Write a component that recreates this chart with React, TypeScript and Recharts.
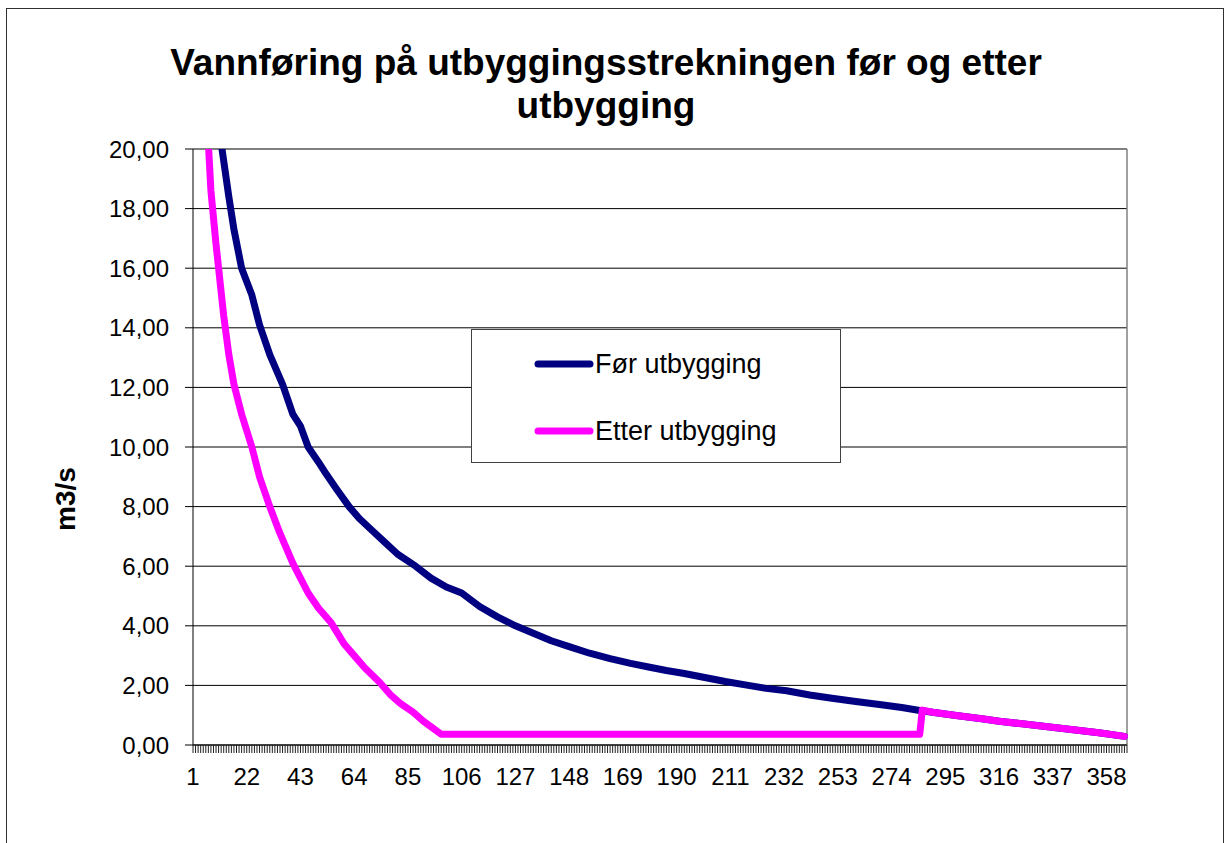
import {
  LineChart,
  Line,
  XAxis,
  YAxis,
  CartesianGrid,
  ReferenceLine,
  Legend,
} from "recharts";

const titleLines = ["Vannføring på utbyggingsstrekningen før og etter", "utbygging"];
const yTitle = "m3/s";
const seriesNames = ["Før utbygging", "Etter utbygging"];
const seriesColors = ["#000080", "#FF00FF"];

// day labels shown on the category axis
const xLabels = [1, 22, 43, 64, 85, 106, 127, 148, 169, 190, 211, 232, 253, 274, 295, 316, 337, 358];
const yTicks = [0, 2, 4, 6, 8, 10, 12, 14, 16, 18, 20];

// m3/s per day of the duration curve
const forDays = [
  1, 12, 15, 17, 20, 24, 27, 31, 36, 40, 43, 46, 50, 53, 57, 62, 66, 71, 76, 81,
  88, 94, 100, 106, 113, 120, 127, 134, 141, 148, 156, 164, 172, 180, 186, 193, 200, 209, 218, 225,
  233, 242, 250, 260, 270, 278, 285, 290, 300, 310, 316, 325, 335, 345, 355, 365,
];
const forValues = [
  55, 20.2, 18.4, 17.3, 16.0, 15.1, 14.1, 13.1, 12.1, 11.1, 10.7, 10.0, 9.5, 9.1, 8.6, 8.0, 7.6, 7.2, 6.8, 6.4,
  6.0, 5.6, 5.3, 5.1, 4.65, 4.3, 4.0, 3.75, 3.5, 3.3, 3.08, 2.9, 2.74, 2.6, 2.5, 2.4, 2.28, 2.13, 2.0, 1.9,
  1.82, 1.68, 1.58, 1.46, 1.35, 1.26, 1.16, 1.1, 0.98, 0.87, 0.8, 0.71, 0.61, 0.51, 0.41, 0.29,
];

const etterDays = [
  1, 7, 8, 10, 11, 13, 15, 17, 20, 24, 27, 31, 35, 40, 43, 46, 50, 55, 60, 64,
  68, 74, 78, 82, 87, 91, 95, 98, 285, 286, 290, 300, 310, 316, 325, 335, 345, 355, 365,
];
const etterValues = [
  45, 20.2, 18.6, 16.8, 16.0, 14.4, 13.1, 12.1, 11.1, 10.0, 9.0, 8.0, 7.1, 6.1, 5.6, 5.1, 4.6, 4.1, 3.4, 3.0,
  2.6, 2.1, 1.7, 1.4, 1.1, 0.8, 0.55, 0.36, 0.36, 1.17, 1.1, 0.98, 0.87, 0.8, 0.71, 0.61, 0.51, 0.41, 0.29,
];

const forData = forDays.map((day, i) => ({ day, value: forValues[i] }));
const etterData = etterDays.map((day, i) => ({ day, value: etterValues[i] }));

// one minor tick per day, like the Excel category axis
const dayTicks = Array.from({ length: 366 }, (_, i) => i + 1);
const labelSet = new Set(xLabels);

const font = "'Liberation Sans', Arial, sans-serif";

function LegendBox() {
  const lineY = [34, 101];
  const textTop = [19, 86];
  return (
    <div
      style={{
        position: "relative",
        width: 370,
        height: 134,
        boxSizing: "border-box",
        border: "1px solid #404040",
        background: "#fff",
        fontFamily: font,
        fontSize: 27,
        color: "#000",
      }}
    >
      <svg width={370} height={134} style={{ position: "absolute", left: 0, top: 0 }}>
        {seriesNames.map((name, i) => (
          <line
            key={name}
            x1={66}
            x2={118}
            y1={lineY[i]}
            y2={lineY[i]}
            stroke={seriesColors[i]}
            strokeWidth={7}
            strokeLinecap="round"
          />
        ))}
      </svg>
      {seriesNames.map((name, i) => (
        <span
          key={name}
          style={{ position: "absolute", left: 123, top: textTop[i], lineHeight: "31px", whiteSpace: "nowrap" }}
        >
          {name}
        </span>
      ))}
    </div>
  );
}

export default function App() {
  return (
    <div
      style={{
        position: "absolute",
        left: 0,
        top: 0,
        width: 1226,
        height: 843,
        overflow: "hidden",
        background: "#fff",
        fontFamily: font,
      }}
    >
      <div
        style={{
          position: "absolute",
          left: 6,
          top: 8,
          width: 1216,
          height: 900,
          border: "1px solid #303030",
        }}
      />
      <div
        style={{
          position: "absolute",
          left: 0,
          top: 41,
          width: 1212,
          textAlign: "center",
          fontSize: 37,
          fontWeight: "bold",
          lineHeight: "43px",
          color: "#000",
        }}
      >
        {titleLines.map((t) => (
          <div key={t}>{t}</div>
        ))}
      </div>
      <div
        style={{
          position: "absolute",
          left: 6,
          top: 479,
          width: 120,
          height: 40,
          lineHeight: "40px",
          textAlign: "center",
          transform: "rotate(-90deg)",
          fontSize: 28,
          fontWeight: "bold",
          color: "#000",
        }}
      >
        {yTitle}
      </div>
      <div style={{ position: "absolute", left: 0, top: 0 }}>
        <LineChart
          width={1226}
          height={843}
          margin={{ top: 149, right: 99, bottom: 58, left: 113 }}
        >
          <CartesianGrid horizontal vertical={false} stroke="#000" strokeWidth={1} />
          <XAxis
            dataKey="day"
            type="number"
            domain={[1, 366]}
            ticks={dayTicks}
            interval={0}
            height={40}
            tickSize={8}
            tickMargin={15}
            tickFormatter={(v) => (labelSet.has(v) ? String(v) : "")}
            tick={{ fill: "#000", fontSize: 24, fontFamily: font }}
            tickLine={{ stroke: "#202020" }}
            axisLine={{ stroke: "#000" }}
            allowDuplicatedCategory={false}
          />
          <YAxis
            type="number"
            domain={[0, 20]}
            ticks={yTicks}
            allowDataOverflow
            width={80}
            tickSize={8}
            tickMargin={16}
            tickFormatter={(v) => v.toFixed(2).replace(".", ",")}
            tick={{ fill: "#000", fontSize: 24, fontFamily: font }}
            tickLine={{ stroke: "#000" }}
            axisLine={{ stroke: "#000" }}
          />
          <ReferenceLine y={20} stroke="#808080" strokeWidth={1.5} />
          <ReferenceLine x={366} stroke="#808080" strokeWidth={1.5} />
          <Legend
            layout="vertical"
            align="center"
            verticalAlign="middle"
            wrapperStyle={{ left: 471, top: 329, width: 370, height: 134 }}
            content={() => <LegendBox />}
          />
          <Line
            data={forData}
            dataKey="value"
            name={seriesNames[0]}
            type="linear"
            stroke={seriesColors[0]}
            strokeWidth={7}
            strokeLinejoin="round"
            strokeLinecap="round"
            dot={false}
            activeDot={false}
            isAnimationActive={false}
          />
          <Line
            data={etterData}
            dataKey="value"
            name={seriesNames[1]}
            type="linear"
            stroke={seriesColors[1]}
            strokeWidth={7}
            strokeLinejoin="round"
            strokeLinecap="round"
            dot={false}
            activeDot={false}
            isAnimationActive={false}
          />
        </LineChart>
      </div>
    </div>
  );
}
